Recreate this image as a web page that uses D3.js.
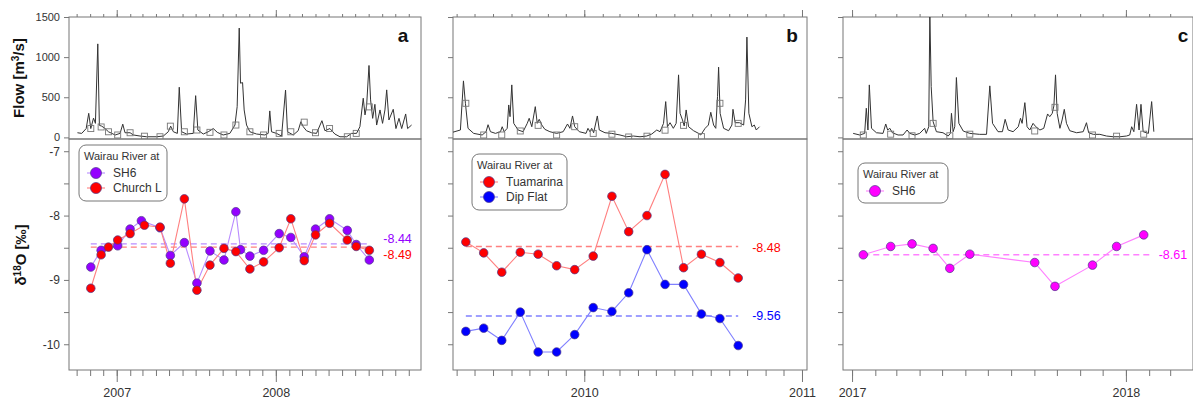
<!DOCTYPE html>
<html>
<head>
<meta charset="utf-8">
<script src="https://cdn.jsdelivr.net/npm/d3@7"></script>
<style>
  body { margin: 0; background: #fff; }
  svg { font-family: "Liberation Sans", Arial, sans-serif; }
</style>
</head>
<body>
<svg id="chart" width="1193" height="400"></svg>
<script>
// ---- data (dates as decimal years) ----

// panel a: Wairau River at SH6 / Church L, 2006-2008
const flowA = [[2006.753,58],[2006.780,50],[2006.808,110],[2006.824,300],[2006.837,110],[2006.854,240],[2006.866,175],
  [2006.881,1165],[2006.891,150],[2006.906,140],[2006.927,110],[2006.948,70],[2006.990,30],[2007.021,50],[2007.038,165],
  [2007.052,58],[2007.084,58],[2007.105,30],[2007.146,17],[2007.188,8],[2007.251,8],[2007.293,17],[2007.324,70],
  [2007.339,140],[2007.356,70],[2007.381,50],[2007.393,625],[2007.408,70],[2007.439,42],[2007.481,50],[2007.496,520],
  [2007.510,92],[2007.544,42],[2007.575,70],[2007.607,110],[2007.632,63],[2007.669,30],[2007.711,50],[2007.743,154],
  [2007.757,383],[2007.770,1362],[2007.778,675],[2007.791,683],[2007.801,342],[2007.816,154],[2007.837,70],[2007.879,42],
  [2007.931,30],[2007.952,50],[2007.962,330],[2007.973,70],[2008.004,50],[2008.036,17],[2008.061,590],[2008.073,70],
  [2008.109,30],[2008.140,83],[2008.157,195],[2008.172,133],[2008.192,83],[2008.224,58],[2008.255,50],[2008.289,208],
  [2008.308,83],[2008.339,110],[2008.370,42],[2008.402,8],[2008.444,8],[2008.475,50],[2008.506,50],[2008.527,133],
  [2008.548,488],[2008.559,280],[2008.569,392],[2008.584,896],[2008.594,467],[2008.607,237],[2008.621,412],[2008.632,154],
  [2008.653,342],[2008.669,175],[2008.684,342],[2008.695,592],[2008.709,217],[2008.736,350],[2008.753,110],[2008.772,237],
  [2008.789,110],[2008.814,292],[2008.826,110],[2008.851,154]];

const sh6ADates = [2006.837,2006.902,2007.006,2007.084,2007.155,2007.272,2007.337,2007.425,2007.504,2007.586,2007.674,
  2007.749,2007.778,2007.837,2007.923,2008.021,2008.094,2008.178,2008.249,2008.337,2008.448,2008.504,2008.586];
const sh6AValues = [-8.80,-8.54,-8.47,-8.21,-8.08,-8.19,-8.62,-8.42,-9.05,-8.55,-8.69,
  -7.94,-8.53,-8.63,-8.54,-8.28,-8.34,-8.64,-8.21,-8.05,-8.23,-8.45,-8.69];

const churchDates = [2006.837,2006.902,2006.948,2007.006,2007.084,2007.174,2007.272,2007.337,2007.425,2007.504,2007.586,
  2007.674,2007.749,2007.837,2007.923,2008.021,2008.094,2008.178,2008.249,2008.337,2008.448,2008.504,2008.586];
const churchValues = [-9.13,-8.61,-8.49,-8.38,-8.28,-8.15,-8.18,-8.74,-7.74,-9.16,-8.77,
  -8.51,-8.56,-8.83,-8.72,-8.50,-8.05,-8.70,-8.30,-8.12,-8.38,-8.48,-8.54];
const sampleFlowA = [110,130,70,30,58,15,8,140,70,92,63,30,154,70,30,50,70,190,58,110,8,50,380];

// panel b: Wairau River at Tuamarina / Dip Flat, 2009-2010
const flowB = [[2009.393,62],[2009.431,92],[2009.445,704],[2009.454,425],[2009.466,113],[2009.492,50],[2009.531,30],
  [2009.549,71],[2009.558,158],[2009.569,71],[2009.592,50],[2009.615,71],[2009.623,133],[2009.632,71],[2009.646,113],
  [2009.653,404],[2009.659,258],[2009.667,654],[2009.676,175],[2009.696,92],[2009.719,71],[2009.738,175],[2009.747,238],
  [2009.759,133],[2009.775,383],[2009.784,175],[2009.793,225],[2009.805,154],[2009.819,100],[2009.842,71],[2009.873,50],
  [2009.903,71],[2009.923,167],[2009.934,113],[2009.946,267],[2009.956,133],[2009.977,71],[2010.008,50],[2010.017,113],
  [2010.026,71],[2010.034,113],[2010.043,58],[2010.060,267],[2010.069,92],[2010.095,58],[2010.126,50],[2010.164,30],
  [2010.195,8],[2010.225,17],[2010.256,8],[2010.287,17],[2010.310,42],[2010.333,92],[2010.348,71],[2010.364,175],
  [2010.374,446],[2010.382,133],[2010.394,183],[2010.409,113],[2010.422,175],[2010.433,779],[2010.440,300],[2010.451,217],
  [2010.459,142],[2010.468,342],[2010.479,133],[2010.502,83],[2010.525,50],[2010.535,30],[2010.555,113],[2010.570,154],
  [2010.581,313],[2010.594,154],[2010.604,113],[2010.612,508],[2010.617,875],[2010.624,300],[2010.640,113],[2010.663,83],
  [2010.678,154],[2010.683,350],[2010.693,183],[2010.713,183],[2010.732,154],[2010.741,467],[2010.747,1250],[2010.756,300],
  [2010.770,133],[2010.781,154],[2010.790,92],[2010.805,133]];

const tuaDates = [2009.456,2009.538,2009.621,2009.706,2009.788,2009.873,2009.956,2010.041,2010.127,2010.204,2010.288,
  2010.371,2010.456,2010.538,2010.623,2010.707];
const tuaValues = [-8.41,-8.58,-8.88,-8.57,-8.60,-8.78,-8.84,-8.63,-7.70,-8.25,-8.00,-7.36,-8.81,-8.60,-8.73,-8.97];
const dipValues = [-9.80,-9.75,-9.94,-9.50,-10.12,-10.12,-9.85,-9.43,-9.49,-9.20,-8.53,-9.07,-9.07,-9.53,-9.60,-10.02];
const sampleFlowB = [425,30,30,80,150,30,133,50,40,5,15,90,150,10,425,175];

// panel c: Wairau River at SH6, 2017-2018
const flowC = [[2017.004,50],[2017.028,30],[2017.046,50],[2017.052,363],[2017.058,92],[2017.063,654],[2017.071,113],
  [2017.089,58],[2017.113,50],[2017.123,167],[2017.130,92],[2017.138,113],[2017.147,58],[2017.168,30],[2017.186,30],
  [2017.201,92],[2017.211,50],[2017.229,30],[2017.247,50],[2017.265,113],[2017.271,50],[2017.280,133],[2017.284,1560],
  [2017.289,633],[2017.296,196],[2017.308,71],[2017.332,58],[2017.351,17],[2017.359,50],[2017.363,300],[2017.369,71],
  [2017.375,133],[2017.381,746],[2017.390,175],[2017.406,79],[2017.430,50],[2017.466,38],[2017.491,38],[2017.503,642],
  [2017.513,175],[2017.533,71],[2017.549,71],[2017.559,225],[2017.570,92],[2017.588,71],[2017.607,133],[2017.615,238],
  [2017.621,175],[2017.631,433],[2017.639,133],[2017.649,92],[2017.661,175],[2017.671,133],[2017.686,92],[2017.700,113],
  [2017.714,292],[2017.722,258],[2017.731,300],[2017.737,392],[2017.743,779],[2017.749,300],[2017.759,113],[2017.767,217],
  [2017.775,350],[2017.783,175],[2017.795,83],[2017.820,58],[2017.844,71],[2017.856,183],[2017.864,58],[2017.881,38],
  [2017.905,38],[2017.929,17],[2017.954,8],[2017.978,8],[2018.002,17],[2018.014,30],[2018.021,133],[2018.029,71],
  [2018.039,412],[2018.048,92],[2018.055,412],[2018.063,71],[2018.082,50],[2018.094,446],[2018.102,71]];

const sh6CDates = [2017.041,2017.141,2017.219,2017.296,2017.357,2017.430,2017.667,2017.741,2017.878,2017.966,2018.065];
const sh6CValues = [-8.61,-8.48,-8.44,-8.51,-8.82,-8.60,-8.73,-9.10,-8.77,-8.48,-8.30];
const sampleFlowC = [30,40,20,175,20,40,80,375,30,15,40];

const meansA = [-8.44, -8.49];
const meansB = [-8.48, -9.56];
const meansC = [-8.61];

const flowTicks = [0, 500, 1000, 1500];
const isoTicks = [-10, -9.5, -9, -8.5, -8, -7.5, -7];

// ---- drawing ----
const svg = d3.select("#chart");
const axisGrey = "#777";
const textGrey = "#333";

function toDate(v) {
  const y = Math.floor(v);
  const s = new Date(y, 0, 1), e = new Date(y + 1, 0, 1);
  return new Date(+s + (v - y) * (e - s));
}
const zip = (a, b) => a.map((d, i) => [d, b[i]]);

// shared y scales
const flowY = d3.scaleLinear().domain([-20, 1500]).range([139, 17]);
const isoY = d3.scaleLinear().domain([-10.4, -6.81]).range([370, 139]);

const panels = [
  { id: "a", x0: 69, x1: 421, dom: [2006.700, 2008.910], yLabels: true, letterX: 403,
    flow: flowA, squares: zip(churchDates, sampleFlowA), meanExtra: 0, labGap: 14,
    series: [
      { name: "SH6", pts: zip(sh6ADates, sh6AValues), fill: "#9400ff", line: "#b98cff", mean: meansA[0], labDy: -5 },
      { name: "Church L", pts: zip(churchDates, churchValues), fill: "#ff0000", line: "#ff8080", mean: meansA[1], labDy: 8 }
    ],
    legend: { x: 79, y: 145, w: 88, h: 56 } },
  { id: "b", x0: 453, x1: 807, dom: [2009.397, 2011.023], yLabels: false, letterX: 792,
    flow: flowB, squares: zip(tuaDates, sampleFlowB), meanExtra: 0, labGap: 14,
    series: [
      { name: "Tuamarina", pts: zip(tuaDates, tuaValues), fill: "#ff0000", line: "#ff8080", mean: meansB[0], labDy: 1 },
      { name: "Dip Flat", pts: zip(tuaDates, dipValues), fill: "#0000ff", line: "#8080ff", mean: meansB[1], labDy: 0 }
    ],
    legend: { x: 472, y: 154, w: 95, h: 56 } },
  { id: "c", x0: 843, x1: 1193, dom: [2016.967, 2018.245], yLabels: false, letterX: 1183,
    flow: flowC, squares: zip(sh6CDates, sampleFlowC), meanExtra: 9, labGap: 6,
    series: [
      { name: "SH6", pts: zip(sh6CDates, sh6CValues), fill: "#ff00ff", line: "#ff80ff", mean: meansC[0], labDy: 0 }
    ],
    legend: { x: 858, y: 163, w: 90, h: 40 } }
];

function styleAxis(g) {
  g.select(".domain").remove();
  g.selectAll("line").attr("stroke", axisGrey);
  g.selectAll("text").attr("fill", textGrey);
}

panels.forEach(p => {
  const x = d3.scaleTime().domain([toDate(p.dom[0]), toDate(p.dom[1])]).range([p.x0, p.x1]);
  const g = svg.append("g");
  const w = p.x1 - p.x0;

  // clip for flow panel
  svg.append("clipPath").attr("id", "clip-" + p.id)
    .append("rect").attr("x", p.x0).attr("y", 17).attr("width", w).attr("height", 122);

  // axes: top of flow panel
  g.append("g").attr("transform", "translate(0,17)")
    .call(d3.axisTop(x).ticks(d3.timeMonth.every(1)).tickSize(3).tickFormat(""))
    .call(styleAxis);
  g.append("g").attr("transform", "translate(0,17)")
    .call(d3.axisTop(x).ticks(d3.timeYear.every(1)).tickSize(7).tickFormat(""))
    .call(styleAxis);

  // bottom of isotope panel
  g.append("g").attr("transform", "translate(0,370)")
    .call(d3.axisBottom(x).ticks(d3.timeMonth.every(1)).tickSize(6).tickFormat(""))
    .call(styleAxis);
  g.append("g").attr("transform", "translate(0,370)")
    .call(d3.axisBottom(x).ticks(d3.timeYear.every(1)).tickSize(12).tickPadding(6).tickFormat(d3.timeFormat("%Y")))
    .call(styleAxis)
    .selectAll("text").attr("font-size", 12.5);

  // left axes
  g.append("g").attr("transform", `translate(${p.x0},0)`)
    .call(d3.axisLeft(flowY).tickValues(flowTicks).tickSize(5).tickPadding(4)
      .tickFormat(d => p.yLabels ? String(d) : ""))
    .call(styleAxis)
    .selectAll("text").attr("font-size", 11);
  g.append("g").attr("transform", `translate(${p.x0},0)`)
    .call(d3.axisLeft(isoY).tickValues(isoTicks).tickSize(5).tickPadding(4)
      .tickFormat(d => (p.yLabels && Number.isInteger(d)) ? String(d) : ""))
    .call(styleAxis)
    .selectAll("text").attr("font-size", 12);

  // frames
  g.append("rect").attr("x", p.x0).attr("y", 17).attr("width", w).attr("height", 122)
    .attr("fill", "none").attr("stroke", axisGrey);
  g.append("rect").attr("x", p.x0).attr("y", 139).attr("width", w).attr("height", 231)
    .attr("fill", "none").attr("stroke", axisGrey);

  // flow hydrograph
  const flowLine = d3.line().x(d => x(toDate(d[0]))).y(d => flowY(d[1]));
  const fg = g.append("g").attr("clip-path", `url(#clip-${p.id})`);
  fg.append("path").datum(p.flow).attr("d", flowLine)
    .attr("fill", "none").attr("stroke", "#333").attr("stroke-width", 1).attr("stroke-linejoin", "round");
  fg.selectAll(".sq").data(p.squares).enter().append("rect")
    .attr("x", d => x(toDate(d[0])) - 3).attr("y", d => flowY(d[1]) - 3)
    .attr("width", 6).attr("height", 6)
    .attr("fill", "none").attr("stroke", "#777").attr("stroke-width", 0.9);

  // panel letter
  g.append("text").attr("x", p.letterX).attr("y", 42).attr("text-anchor", "middle")
    .attr("font-size", 19).attr("font-weight", "bold").attr("fill", "#111").text(p.id);

  // isotope series
  const isoLine = d3.line().x(d => x(toDate(d[0]))).y(d => isoY(d[1]));
  p.series.forEach(s => {
    const first = x(toDate(s.pts[0][0]));
    const last = x(toDate(s.pts[s.pts.length - 1][0])) + p.meanExtra;
    g.append("line").attr("x1", first).attr("x2", last)
      .attr("y1", isoY(s.mean)).attr("y2", isoY(s.mean))
      .attr("stroke", s.line).attr("stroke-width", 1.4).attr("stroke-dasharray", "6,4");
    g.append("text").attr("x", last + p.labGap).attr("y", isoY(s.mean) + s.labDy).attr("dy", "0.35em")
      .attr("font-size", 12.5).attr("fill", s.fill).text(s.mean.toFixed(2));
  });
  p.series.forEach(s => {
    g.append("path").datum(s.pts).attr("d", isoLine)
      .attr("fill", "none").attr("stroke", s.line).attr("stroke-width", 1.1);
  });
  p.series.forEach(s => {
    g.selectAll(null).data(s.pts).enter().append("circle")
      .attr("cx", d => x(toDate(d[0]))).attr("cy", d => isoY(d[1])).attr("r", 4.3)
      .attr("fill", s.fill).attr("stroke", "#4a3a8a").attr("stroke-width", 0.7);
  });

  // legend
  const L = p.legend;
  const lg = g.append("g").attr("transform", `translate(${L.x},${L.y})`);
  lg.append("rect").attr("width", L.w).attr("height", L.h).attr("rx", 7)
    .attr("fill", "#fff").attr("stroke", "#777");
  lg.append("text").attr("x", 5).attr("y", 15).attr("font-size", 11).attr("fill", textGrey)
    .text("Wairau River at");
  p.series.forEach((s, i) => {
    const yy = 28 + i * 15;
    lg.append("line").attr("x1", 8).attr("x2", 26).attr("y1", yy).attr("y2", yy)
      .attr("stroke", s.line).attr("stroke-width", 1.1);
    lg.append("circle").attr("cx", 17).attr("cy", yy).attr("r", 5.5)
      .attr("fill", s.fill).attr("stroke", "#4a3a8a").attr("stroke-width", 0.7);
    lg.append("text").attr("x", 34).attr("y", yy).attr("dy", "0.35em")
      .attr("font-size", 12).attr("fill", textGrey).text(s.name);
  });
});

// y-axis titles
svg.append("text").attr("transform", "translate(24,78) rotate(-90)").attr("text-anchor", "middle")
  .attr("font-size", 15).attr("font-weight", "bold").attr("fill", "#111")
  .html('Flow [m<tspan dy="-5" font-size="10">3</tspan><tspan dy="5">/s]</tspan>');
svg.append("text").attr("transform", "translate(26,255) rotate(-90)").attr("text-anchor", "middle")
  .attr("font-size", 15).attr("font-weight", "bold").attr("fill", "#111")
  .html('δ<tspan dy="-5" font-size="10">18</tspan><tspan dy="5">O [‰]</tspan>');
</script>
</body>
</html>
